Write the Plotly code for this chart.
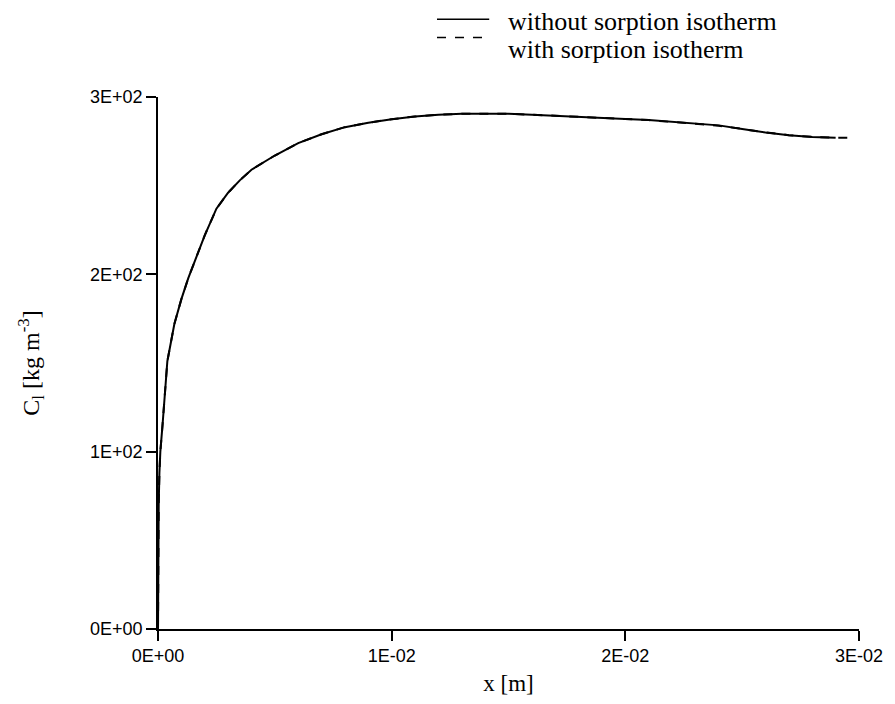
import plotly.graph_objects as go

# data (x in m, C_l in kg m^-3)
x_without = [0.0, 0.00001, 0.00003, 0.00006, 0.0001, 0.0002, 0.0004, 0.0007, 0.001, 0.0013,
             0.0017, 0.002, 0.0025, 0.003, 0.0035, 0.004, 0.005, 0.006, 0.007, 0.008,
             0.009, 0.010, 0.011, 0.012, 0.013, 0.014, 0.015, 0.016, 0.017, 0.018,
             0.019, 0.020, 0.021, 0.022, 0.023, 0.024, 0.025, 0.026, 0.027, 0.028,
             0.029]
c_without = [0.0, 40.0, 70.0, 88.0, 100.0, 116.0, 151.0, 172.0, 186.0, 198.0,
             212.0, 222.0, 237.0, 246.0, 253.0, 259.0, 267.0, 274.0, 279.0, 283.0,
             285.5, 287.5, 289.0, 290.0, 290.5, 290.5, 290.5, 290.0, 289.5, 289.0,
             288.3, 287.6, 287.0, 286.0, 285.2, 284.0, 282.0, 280.0, 278.5, 277.5,
             277.0]
x_with = [0.0, 0.00001, 0.00003, 0.00006, 0.0001, 0.0002, 0.0004, 0.0007, 0.001, 0.0013,
          0.0017, 0.002, 0.0025, 0.003, 0.0035, 0.004, 0.005, 0.006, 0.007, 0.008,
          0.009, 0.010, 0.011, 0.012, 0.013, 0.014, 0.015, 0.016, 0.017, 0.018,
          0.019, 0.020, 0.021, 0.022, 0.023, 0.024, 0.025, 0.026, 0.027, 0.028,
          0.029, 0.0296]
c_with = [0.0, 40.0, 70.0, 88.0, 100.0, 116.0, 151.0, 172.0, 186.0, 198.0,
          212.0, 222.0, 237.0, 246.0, 253.0, 259.0, 267.0, 274.0, 279.0, 283.0,
          285.5, 287.5, 289.0, 290.0, 290.5, 290.5, 290.5, 290.0, 289.5, 289.0,
          288.3, 287.6, 287.0, 286.0, 285.0, 283.8, 282.0, 280.0, 278.5, 277.5,
          277.0, 277.0]

x_ticks = [0.0, 0.01, 0.02, 0.03]
x_ticklabels = ["0E+00", "1E-02", "2E-02", "3E-02"]
y_ticks = [0, 100, 200, 300]
y_ticklabels = ["0E+00", "1E+02", "2E+02", "3E+02"]
legend_labels = ["without sorption isotherm", "with sorption isotherm"]

fig = go.Figure()
fig.add_trace(go.Scatter(x=x_without, y=c_without, mode="lines",
                         line=dict(color="black", width=2),
                         showlegend=False, name=legend_labels[0]))
fig.add_trace(go.Scatter(x=x_with, y=c_with, mode="lines",
                         line=dict(color="black", width=2, dash="dash"),
                         showlegend=False, name=legend_labels[1]))

tickfont = dict(family="Liberation Sans, Arial, sans-serif", size=18, color="black")
serif = "Liberation Serif, Times New Roman, serif"

fig.update_xaxes(range=[0, 0.03], tickvals=x_ticks, ticktext=x_ticklabels,
                 showline=True, linecolor="black", linewidth=1.5,
                 ticks="outside", ticklen=10, tickwidth=1.5, tickcolor="black",
                 showgrid=False, zeroline=False, tickfont=tickfont,
                 title=dict(text="x [m]", font=dict(family=serif, size=23, color="black"),
                            standoff=10))
fig.update_yaxes(range=[0, 300], tickvals=y_ticks, ticktext=y_ticklabels,
                 showline=True, linecolor="black", linewidth=1.5,
                 ticks="outside", ticklen=10, tickwidth=1.5, tickcolor="black",
                 showgrid=False, zeroline=False, tickfont=tickfont,
                 title=dict(text="C<sub>l</sub> [kg m<sup>-3</sup>]",
                            font=dict(family=serif, size=24, color="black"),
                            standoff=44))

# legend drawn in paper coordinates
legend_y = [1.142, 1.090]
legend_line_y = [1.146, 1.112]
for i, (lab, dash) in enumerate(zip(legend_labels, ["solid", "dash"])):
    fig.add_shape(type="line", xref="paper", yref="paper",
                  x0=0.398, x1=0.4725, y0=legend_line_y[i], y1=legend_line_y[i],
                  line=dict(color="black", width=1.5, dash=dash))
    fig.add_annotation(xref="paper", yref="paper", x=0.4965, y=legend_y[i],
                       text=lab, showarrow=False, xanchor="left", yanchor="middle",
                       font=dict(family=serif, size=26, color="black"))

fig.update_layout(width=895, height=704, plot_bgcolor="white", paper_bgcolor="white",
                  margin=dict(l=158, r=28, t=97, b=73))

fig.write_html("out.html")
